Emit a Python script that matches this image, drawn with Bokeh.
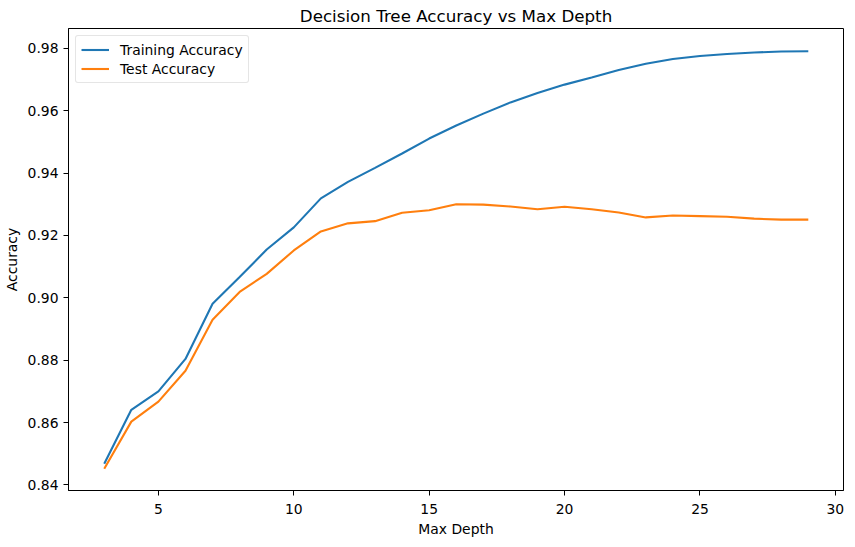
from bokeh.plotting import figure
from bokeh.models import FixedTicker, Range1d, Legend, LegendItem, NumeralTickFormatter
from bokeh.embed import file_html
from bokeh.resources import INLINE

max_depth = list(range(3, 30))
train_acc = [0.8468, 0.8641, 0.8700, 0.8804, 0.8981, 0.9067, 0.9155, 0.9226, 0.9319,
             0.9372, 0.9417, 0.9463, 0.9511, 0.9553, 0.9591, 0.9627, 0.9657, 0.9684,
             0.9707, 0.9731, 0.9751, 0.9766, 0.9776, 0.9782, 0.9787, 0.9790, 0.9791]
test_acc = [0.8452, 0.8603, 0.8667, 0.8766, 0.8930, 0.9019, 0.9077, 0.9152, 0.9213,
            0.9239, 0.9246, 0.9273, 0.9281, 0.9300, 0.9299, 0.9293, 0.9284, 0.9292,
            0.9284, 0.9274, 0.9258, 0.9264, 0.9262, 0.9260, 0.9254, 0.9251, 0.9251]
x_ticks = [5, 10, 15, 20, 25, 30]
y_ticks = [0.84, 0.86, 0.88, 0.90, 0.92, 0.94, 0.96, 0.98]

FONT = "DejaVu Sans"

p = figure(frame_width=775, frame_height=462, output_backend="svg", toolbar_location=None,
           title="Decision Tree Accuracy vs Max Depth",
           x_range=Range1d(1.68, 30.3), y_range=Range1d(0.8382, 0.9864),
           min_border_left=68, min_border_right=2, min_border_top=28, min_border_bottom=40)

p.title.text_font = FONT
p.title.text_font_size = "16.7px"
p.title.text_font_style = "normal"
p.title.align = "center"
p.title.text_color = "black"
p.title.standoff = 5

p.xgrid.visible = False
p.ygrid.visible = False
p.outline_line_color = "black"
p.outline_line_alpha = 1.0
p.outline_line_width = 1
p.background_fill_color = "white"
p.border_fill_color = "white"

for ax in (p.xaxis[0], p.yaxis[0]):
    ax.major_label_text_font = FONT
    ax.major_label_text_font_size = "13.9px"
    ax.major_label_text_color = "black"
    ax.axis_label_text_font = FONT
    ax.axis_label_text_font_size = "13.9px"
    ax.axis_label_text_font_style = "normal"
    ax.axis_label_text_color = "black"
    ax.axis_line_color = "black"
    ax.major_tick_line_color = "black"
    ax.major_tick_out = 5
    ax.major_tick_in = 0
    ax.minor_tick_out = 0
    ax.minor_tick_in = 0
    ax.major_label_standoff = 5

p.xaxis[0].ticker = FixedTicker(ticks=x_ticks)
p.yaxis[0].ticker = FixedTicker(ticks=y_ticks)
p.yaxis[0].formatter = NumeralTickFormatter(format="0.00")
p.xaxis[0].axis_label = "Max Depth"
p.yaxis[0].axis_label = "Accuracy"
p.xaxis[0].major_label_standoff = 8
p.xaxis[0].axis_label_standoff = 4
p.yaxis[0].axis_label_standoff = 5

r1 = p.line(max_depth, train_acc, line_color="#1f77b4", line_width=2.1)
r2 = p.line(max_depth, test_acc, line_color="#ff7f0e", line_width=2.1)

legend = Legend(items=[LegendItem(label="Training Accuracy", renderers=[r1]),
                       LegendItem(label="Test Accuracy", renderers=[r2])],
                location="top_left")
legend.margin = 7
legend.padding = 5
legend.spacing = 2
legend.glyph_width = 28
legend.glyph_height = 17
legend.label_standoff = 11
legend.label_text_font = FONT
legend.label_text_font_size = "13.9px"
legend.label_text_color = "black"
legend.border_line_color = "#cccccc"
legend.border_line_width = 1
legend.background_fill_alpha = 0.8
legend.border_radius = 3
p.add_layout(legend)

open("out.html", "w").write(file_html(p, INLINE))
